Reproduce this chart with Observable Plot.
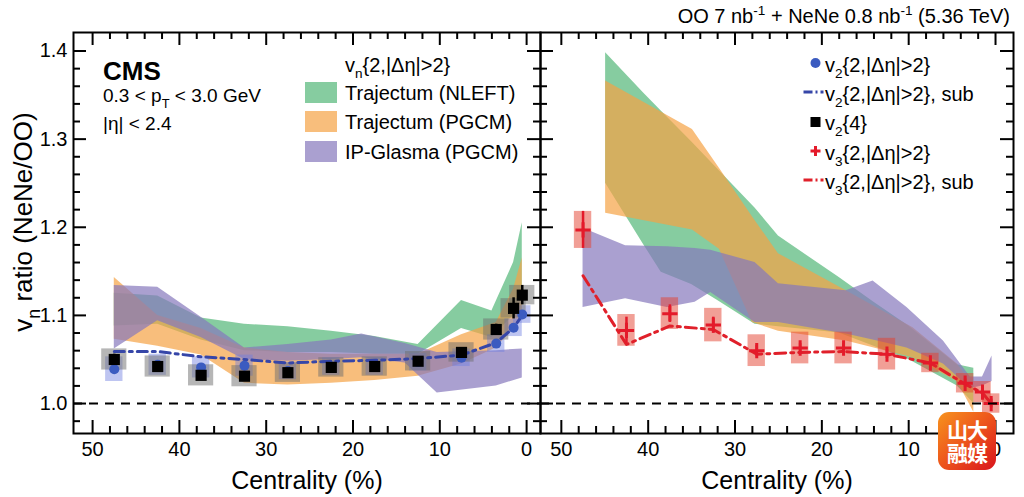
<!DOCTYPE html>
<html>
<head>
<meta charset="utf-8">
<script src="https://cdn.jsdelivr.net/npm/d3@7"></script>
<script src="https://cdn.jsdelivr.net/npm/@observablehq/plot@0.6"></script>
<style>
  html, body { margin: 0; padding: 0; background: #fff; }
  #wrap { position: relative; width: 1024px; height: 497px; overflow: hidden; font-family: "Liberation Sans", Arial, Helvetica, sans-serif; }
  #wrap svg { position: absolute; top: 0; }
  #logo { position: absolute; left: 938px; top: 412px; width: 58px; height: 58px; border-radius: 11px;
          background: linear-gradient(135deg, #f7931e 0%, #ee5a1c 45%, #d9141c 100%);
          color: #fff; font-family: "Noto Sans CJK SC", sans-serif; font-weight: 700; font-size: 21px;
          line-height: 23px; text-align: center; padding-top: 6px; box-sizing: border-box; letter-spacing: -1px; }
</style>
</head>
<body>
<div id="wrap"></div>
<script>
// ---------------- data ----------------
const centrality = [47.5, 42.5, 37.5, 32.5, 27.5, 22.5, 17.5, 12.5, 7.5, 3.5, 1.5, 0.5];

// left panel: v2
const v2_2      = [1.039, 1.044, 1.041, 1.043, 1.037, 1.042, 1.042, 1.047, 1.052, 1.068, 1.086, 1.101];
const v2_2_sys  = [0.014, 0.012, 0.012, 0.012, 0.010, 0.010, 0.010, 0.010, 0.010, 0.010, 0.010, 0.010];
const v2_2_sub  = [1.059, 1.059, 1.053, 1.050, 1.046, 1.048, 1.049, 1.051, 1.055, 1.069, 1.086, 1.100];
const v2_4      = [1.050, 1.042, 1.032, 1.031, 1.035, 1.041, 1.042, 1.048, 1.058, 1.084, 1.108, 1.123];
const v2_4_stat = [0.006, 0.004, 0.004, 0.004, 0.003, 0.003, 0.003, 0.003, 0.004, 0.006, 0.012, 0.011];
const v2_4_sys  = [0.012, 0.012, 0.012, 0.012, 0.011, 0.011, 0.011, 0.011, 0.011, 0.012, 0.011, 0.011];

// right panel: v3
const v3_2      = [1.197, 1.083, 1.102, 1.089, 1.060, 1.063, 1.063, 1.056, 1.046, 1.023, 1.013, 1.000];
const v3_2_stat = [0.021, 0.015, 0.010, 0.009, 0.006, 0.005, 0.005, 0.005, 0.004, 0.005, 0.005, 0.005];
const v3_2_sys  = [0.021, 0.018, 0.018, 0.019, 0.018, 0.018, 0.018, 0.018, 0.011, 0.011, 0.012, 0.011];
const v3_2_sub  = [1.145, 1.067, 1.088, 1.084, 1.056, 1.058, 1.059, 1.056, 1.046, 1.022, 1.012, 1.000];

// model bands, left panel (v2)
const nleftL_x  = [47.5, 42.5, 37.5, 32.5, 27.5, 22.5, 17.5, 12.5, 7.5, 4.0, 1.5, 0.5];
const nleftL_hi = [1.125, 1.122, 1.097, 1.090, 1.087, 1.082, 1.076, 1.067, 1.117, 1.105, 1.160, 1.205];
const nleftL_lo = [1.088, 1.090, 1.072, 1.060, 1.058, 1.058, 1.056, 1.056, 1.085, 1.075, 1.100, 1.130];
const pgcmL_x   = [47.5, 42.5, 37.5, 32.5, 27.5, 22.5, 17.5, 12.5, 7.5, 3.5, 1.5, 0.5];
const pgcmL_hi  = [1.143, 1.100, 1.085, 1.063, 1.058, 1.056, 1.056, 1.056, 1.078, 1.092, 1.130, 1.165];
const pgcmL_lo  = [1.073, 1.065, 1.055, 1.023, 1.021, 1.023, 1.026, 1.031, 1.045, 1.063, 1.085, 1.100];
const ipgL_x    = [47.5, 42.5, 37.5, 32.5, 27.5, 22.5, 19.0, 14.0, 10.3, 3.5, 0.5];
const ipgL_hi   = [1.134, 1.132, 1.098, 1.063, 1.067, 1.072, 1.079, 1.068, 1.058, 1.060, 1.062];
const ipgL_lo   = [1.062, 1.094, 1.075, 1.050, 1.048, 1.050, 1.052, 1.046, 1.012, 1.020, 1.029];

// model bands, right panel (v3)
const nleftR_x  = [44.9, 40.5, 38.5, 35.0, 32.0, 27.7, 25.0, 18.0, 14.0, 10.0, 4.4, 2.5];
const nleftR_hi = [1.398, 1.352, 1.332, 1.297, 1.266, 1.222, 1.190, 1.143, 1.115, 1.088, 1.044, 1.040];
const nleftR_lo = [1.250, 1.180, 1.149, 1.135, 1.117, 1.090, 1.087, 1.080, 1.065, 1.050, 1.020, 1.000];
const pgcmR_x   = [44.9, 34.9, 31.8, 28.0, 25.0, 17.2, 9.5, 4.4, 2.5];
const pgcmR_hi  = [1.366, 1.311, 1.267, 1.212, 1.170, 1.128, 1.086, 1.045, 1.020];
const pgcmR_lo  = [1.216, 1.197, 1.175, 1.092, 1.082, 1.071, 1.052, 1.025, 0.990];
const ipgR_x    = [47.5, 42.6, 37.8, 34.6, 32.8, 27.7, 25.0, 17.2, 14.1, 10.2, 6.0, 2.9, 1.5, 0.4];
const ipgR_hi   = [1.199, 1.179, 1.178, 1.176, 1.174, 1.160, 1.136, 1.128, 1.139, 1.109, 1.071, 1.030, 1.030, 1.054];
const ipgR_lo   = [1.109, 1.119, 1.109, 1.115, 1.126, 1.092, 1.092, 1.079, 1.072, 1.063, 1.045, 1.017, 1.020, 1.025];

// axes
const xMajor = [50, 40, 30, 20, 10, 0];
const xMinor = [48, 46, 44, 42, 38, 36, 34, 32, 28, 26, 24, 22, 18, 16, 14, 12, 8, 6, 4, 2];
const yMajor = [1.0, 1.1, 1.2, 1.3, 1.4];
const yMinor = [0.98, 1.02, 1.04, 1.06, 1.08, 1.12, 1.14, 1.16, 1.18, 1.22, 1.24, 1.26, 1.28, 1.32, 1.34, 1.36, 1.38];
const xTitle = "Centrality (%)";

// ---------------- style ----------------
const FONT = '"Liberation Sans", Arial, Helvetica, sans-serif';
const C_GREEN = "#52b677", C_ORANGE = "#f5a245", C_PURPLE = "#8677bc", BAND_OP = 0.7;
const C_BLUE = "#3b5bc0", C_BLUE_LINE = "#3646a8", C_RED = "#e41a2a";
const yDomain = [0.966, 1.421];
const H = 497, MT = 32, MB = 64;

const band = (xs, lo, hi) => xs.map((x, i) => ({x, lo: lo[i], hi: hi[i]}));
const pts = centrality.map((c, i) => ({
  c, v22: v2_2[i], v22sys: v2_2_sys[i], v22sub: v2_2_sub[i],
  v24: v2_4[i], v24stat: v2_4_stat[i], v24sys: v2_4_sys[i],
  v3: v3_2[i], v3stat: v3_2_stat[i], v3sys: v3_2_sys[i], v3sub: v3_2_sub[i]
}));

function panel({width, marginLeft, marginRight, xDomain, marks, yLabels}) {
  const fw = width - marginLeft - marginRight, fh = H - MT - MB;
  const MAJ = 13, MIN = 7;
  const tk = {stroke: "black", strokeWidth: 2};
  return Plot.plot({
    width, height: H, marginTop: MT, marginBottom: MB, marginLeft, marginRight,
    x: {domain: xDomain, axis: null}, y: {domain: yDomain, axis: null},
    style: {fontFamily: FONT, fontSize: "20px", background: "transparent", color: "black", overflow: "visible"},
    marks: [
      ...marks,
      Plot.ruleY([1.0], {strokeDasharray: "9,7", strokeWidth: 2, stroke: "black"}),
      Plot.tickX(xMajor, {x: d => d, insetTop: fh - MAJ, ...tk}),
      Plot.tickX(xMajor, {x: d => d, insetBottom: fh - MAJ, ...tk}),
      Plot.tickX(xMinor, {x: d => d, insetTop: fh - MIN, ...tk}),
      Plot.tickX(xMinor, {x: d => d, insetBottom: fh - MIN, ...tk}),
      Plot.tickY(yMajor, {y: d => d, insetRight: fw - MAJ, ...tk}),
      Plot.tickY(yMajor, {y: d => d, insetLeft: fw - MAJ, ...tk}),
      Plot.tickY(yMinor, {y: d => d, insetRight: fw - MIN, ...tk}),
      Plot.tickY(yMinor, {y: d => d, insetLeft: fw - MIN, ...tk}),
      Plot.frame({stroke: "black", strokeWidth: 2}),
      Plot.axisX(xMajor, {anchor: "bottom", tickSize: 0, tickPadding: 8, label: null, fontSize: 20}),
      yLabels ? Plot.axisY(yMajor, {anchor: "left", tickSize: 0, tickPadding: 6, label: null, fontSize: 20, tickFormat: d3.format(".1f")}) : null,
      Plot.text([xTitle], {frameAnchor: "bottom", dy: 55, lineAnchor: "bottom", fontSize: 25, text: d => d})
    ]
  });
}

const bandMarks = (g, o, p) => [
  Plot.areaY(g, {x: "x", y1: "lo", y2: "hi", fill: C_GREEN, fillOpacity: BAND_OP}),
  Plot.areaY(o, {x: "x", y1: "lo", y2: "hi", fill: C_ORANGE, fillOpacity: BAND_OP}),
  Plot.areaY(p, {x: "x", y1: "lo", y2: "hi", fill: C_PURPLE, fillOpacity: BAND_OP})
];

const BW_BLUE = 1.0, BW_GREY = 1.45, BW_RED = 1.0;

const left = panel({
  width: 541, marginLeft: 73, marginRight: 1, xDomain: [52.2, -1.6], yLabels: true,
  marks: [
    ...bandMarks(band(nleftL_x, nleftL_lo, nleftL_hi), band(pgcmL_x, pgcmL_lo, pgcmL_hi), band(ipgL_x, ipgL_lo, ipgL_hi)),
    Plot.rect(pts, {x1: d => d.c + BW_BLUE, x2: d => d.c - BW_BLUE, y1: d => d.v22 - d.v22sys, y2: d => d.v22 + d.v22sys, fill: "#6f7fe0", fillOpacity: 0.45}),
    Plot.rect(pts, {x1: d => d.c + BW_GREY, x2: d => d.c - BW_GREY, y1: d => d.v24 - d.v24sys, y2: d => d.v24 + d.v24sys, fill: "#6e6e6e", fillOpacity: 0.5}),
    Plot.line(pts, {x: "c", y: "v22sub", stroke: C_BLUE_LINE, strokeWidth: 3, strokeDasharray: "10,5,3,5"}),
    Plot.dot(pts, {x: "c", y: "v22", r: 5, fill: C_BLUE, stroke: "none"}),
    Plot.ruleX(pts, {x: "c", y1: d => d.v24 - d.v24stat, y2: d => d.v24 + d.v24stat, stroke: "black", strokeWidth: 2.5}),
    Plot.dot(pts, {x: "c", y: "v24", r: 6.3, symbol: "square", fill: "black", stroke: "none"})
  ]
});

const right = panel({
  width: 485, marginLeft: 1, marginRight: 11, xDomain: [52.4, -2.07], yLabels: false,
  marks: [
    ...bandMarks(band(nleftR_x, nleftR_lo, nleftR_hi), band(pgcmR_x, pgcmR_lo, pgcmR_hi), band(ipgR_x, ipgR_lo, ipgR_hi)),
    Plot.rect(pts, {x1: d => d.c + BW_RED, x2: d => d.c - BW_RED, y1: d => d.v3 - d.v3sys, y2: d => d.v3 + d.v3sys, fill: "#e3402e", fillOpacity: 0.5}),
    Plot.line(pts, {x: "c", y: "v3sub", stroke: "#e0202a", strokeWidth: 3, strokeDasharray: "11,5,3,5"}),
    Plot.ruleX(pts, {x: "c", y1: d => d.v3 - d.v3stat, y2: d => d.v3 + d.v3stat, stroke: C_RED, strokeWidth: 2.5}),
    Plot.dot(pts, {x: "c", y: "v3", r: 5, symbol: "plus", stroke: C_RED, strokeWidth: 3})
  ]
});

const wrap = document.getElementById("wrap");
left.style.left = "0px";
right.style.left = "539px";
wrap.appendChild(left);
wrap.appendChild(right);

// ---------------- text with sub/superscripts ----------------
function rich(svg, x, y, parts, {size = 20, anchor = "start", weight = "normal", rotate = 0} = {}) {
  const t = d3.select(svg).append("text")
    .attr("x", x).attr("y", y).attr("font-size", size).attr("font-family", FONT)
    .attr("font-weight", weight).attr("text-anchor", anchor).attr("fill", "black");
  if (rotate) t.attr("transform", `rotate(${rotate},${x},${y})`);
  let shift = 0;
  for (const p of parts) {
    const [s, kind] = Array.isArray(p) ? p : [p, null];
    const target = kind === "sub" ? size * 0.3 : kind === "sup" ? -size * 0.42 : 0;
    const ts = t.append("tspan").text(s).attr("dy", target - shift);
    if (kind) ts.attr("font-size", size * 0.68);
    shift = target;
  }
  return t;
}

// y-axis title
rich(left, 32, 222, ["v", ["n", "sub"], " ratio (NeNe/OO)"], {size: 26, anchor: "middle", rotate: -90});
// CMS block
rich(left, 103, 80, ["CMS"], {size: 26, weight: "bold"});
rich(left, 103, 102, ["0.3 < p", ["T", "sub"], " < 3.0 GeV"], {size: 19});
rich(left, 103, 130, ["|η| < 2.4"], {size: 19});
// model legend
rich(left, 345, 72, ["v", ["n", "sub"], "{2,|Δη|>2}"], {size: 20});
const modelLegend = [["Trajectum (NLEFT)", C_GREEN, 82, 100], ["Trajectum (PGCM)", C_ORANGE, 111, 129], ["IP-Glasma (PGCM)", C_PURPLE, 141, 159]];
for (const [label, col, top, base] of modelLegend) {
  d3.select(left).append("rect").attr("x", 305).attr("y", top).attr("width", 32).attr("height", 21)
    .attr("fill", col).attr("fill-opacity", BAND_OP);
  rich(left, 345, base, [label], {size: 20});
}

// title
rich(right, 471, 23, ["OO 7 nb", ["-1", "sup"], " + NeNe 0.8 nb", ["-1", "sup"], " (5.36 TeV)"], {size: 20, anchor: "end"});

// data legend (right panel)
const R = d3.select(right);
const mx = 276.5, tx = 286;
R.append("circle").attr("cx", mx).attr("cy", 63).attr("r", 5).attr("fill", C_BLUE);
rich(right, tx, 72, ["v", ["2", "sub"], "{2,|Δη|>2}"]);
R.append("line").attr("x1", mx - 12).attr("x2", mx + 8).attr("y1", 92).attr("y2", 92)
  .attr("stroke", C_BLUE_LINE).attr("stroke-width", 3).attr("stroke-dasharray", "9,3,2,3");
rich(right, tx, 101, ["v", ["2", "sub"], "{2,|Δη|>2}, sub"]);
R.append("rect").attr("x", mx - 5).attr("y", 117).attr("width", 10).attr("height", 10).attr("fill", "black");
rich(right, tx, 130, ["v", ["2", "sub"], "{4}"]);
R.append("path").attr("d", `M${mx - 5},151H${mx + 5}M${mx},146V156`).attr("stroke", C_RED).attr("stroke-width", 3);
rich(right, tx, 160, ["v", ["3", "sub"], "{2,|Δη|>2}"]);
R.append("line").attr("x1", mx - 12).attr("x2", mx + 8).attr("y1", 180).attr("y2", 180)
  .attr("stroke", "#e0202a").attr("stroke-width", 3).attr("stroke-dasharray", "9,3,2,3");
rich(right, tx, 189, ["v", ["3", "sub"], "{2,|Δη|>2}, sub"]);

// watermark
const logo = document.createElement("div");
logo.id = "logo";
logo.innerHTML = "山大<br>融媒";
wrap.appendChild(logo);
</script>
</body>
</html>
